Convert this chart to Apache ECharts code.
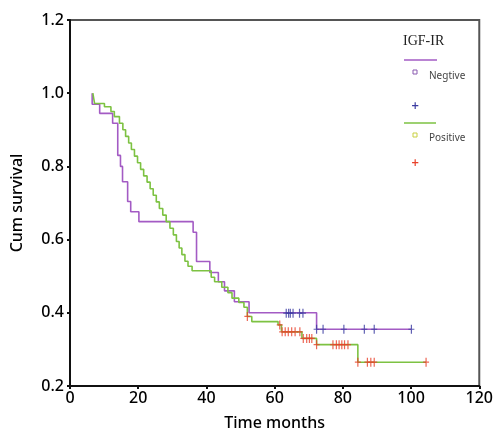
<!doctype html>
<html lang="en">
  <head>
    <meta charset="utf-8">
    <title>IGF-IR survival</title>
    <script src="https://cdn.jsdelivr.net/npm/echarts@6/dist/echarts.min.js"></script>
  </head>
  <body style="margin:0; background:#fff;">
    <div id="chart" style="width: 496px; height: 436px;"></div>
    <script>
      // Kaplan-Meier steps (time in months, cum survival)
      var negTime = [6.5, 6.5, 8.7, 12.5, 14.0, 14.8, 15.4, 16.9, 17.8, 20.2, 36.1, 37.1, 41.0, 43.5, 45.3, 48.2, 52.5, 72.3, 100.1];
      var negSurv = [1.0, 0.97, 0.945, 0.918, 0.83, 0.80, 0.758, 0.704, 0.676, 0.649, 0.62, 0.54, 0.51, 0.485, 0.46, 0.43, 0.40, 0.355, 0.355];

      var posTime = [6.7, 7.2, 10.1, 12.0, 13.0, 14.5, 15.5, 16.3, 17.2, 18.0, 18.9, 19.8, 20.7, 21.6, 22.6, 23.5, 24.4, 25.3, 26.2, 27.2, 28.2, 29.3, 30.3, 31.2, 32.0, 32.8, 33.7, 34.6, 35.8, 41.4, 42.4, 44.5, 46.3, 47.5, 49.5, 51.0, 52.0, 53.3, 61.0, 62.0, 68.0, 72.3, 84.4, 104.4];
      var posSurv = [1.0, 0.972, 0.963, 0.95, 0.936, 0.918, 0.9, 0.882, 0.864, 0.846, 0.828, 0.81, 0.792, 0.774, 0.757, 0.739, 0.721, 0.703, 0.685, 0.667, 0.649, 0.631, 0.613, 0.595, 0.577, 0.559, 0.541, 0.527, 0.515, 0.497, 0.485, 0.47, 0.455, 0.44, 0.428, 0.415, 0.39, 0.376, 0.367, 0.348, 0.33, 0.313, 0.265, 0.265];

      // censored cases
      var negCensorTime = [63.4, 64.1, 64.6, 65.4, 67.3, 68.3, 72.3, 74.2, 80.3, 86.3, 89.2, 100.1];
      var negCensorSurv = [0.399, 0.399, 0.399, 0.399, 0.399, 0.399, 0.355, 0.355, 0.355, 0.355, 0.355, 0.355];
      var posCensorTime = [52.0, 61.5, 62.2, 63.1, 64.0, 65.0, 66.0, 67.4, 68.4, 69.4, 70.2, 70.9, 72.3, 77.1, 78.1, 78.9, 79.7, 80.5, 81.5, 84.4, 87.2, 88.2, 89.2, 104.4];
      var posCensorSurv = [0.39, 0.367, 0.348, 0.348, 0.348, 0.348, 0.348, 0.348, 0.33, 0.33, 0.33, 0.33, 0.313, 0.313, 0.313, 0.313, 0.313, 0.313, 0.313, 0.265, 0.265, 0.265, 0.265, 0.265];

      function pairs(xs, ys) {
        return xs.map(function (x, i) { return [x, ys[i]]; });
      }

      var plus = 'path://M-0.8,-6H0.8V-0.8H4V0.8H0.8V6H-0.8V0.8H-4V-0.8H-0.8Z';
      var font = 'Noto Sans';

      var myChart = echarts.init(document.getElementById('chart'));
      myChart.setOption({
        animation: false,
        textStyle: { fontFamily: font },
        grid: {
          left: 70, right: 11, top: 20, bottom: 50,
          show: true, borderColor: '#555', borderWidth: 2, backgroundColor: '#fff'
        },
        xAxis: {
          type: 'value', min: 0, max: 120, interval: 20,
          name: 'Time months', nameLocation: 'middle', nameGap: 29,
          nameTextStyle: { fontSize: 16, color: '#000', fontWeight: 500 },
          axisLine: { lineStyle: { color: '#111', width: 2 } },
          axisTick: { length: 3, lineStyle: { color: '#111', width: 2 } },
          axisLabel: { fontSize: 16, color: '#000', fontWeight: 500, margin: 4 },
          splitLine: { show: false }
        },
        yAxis: {
          type: 'value', min: 0.2, max: 1.2, interval: 0.2,
          name: 'Cum survival', nameLocation: 'middle', nameGap: 45,
          nameTextStyle: { fontSize: 16, color: '#000', fontWeight: 500 },
          axisLine: { show: true, lineStyle: { color: '#111', width: 2 } },
          axisTick: { show: true, length: 3, lineStyle: { color: '#111', width: 2 } },
          axisLabel: { fontSize: 16, color: '#000', fontWeight: 500, margin: 6, formatter: function (v) { return v.toFixed(1); } },
          splitLine: { show: false }
        },
        graphic: [
          { type: 'text', left: 403, top: 34, style: { text: 'IGF-IR', font: '14px "Liberation Serif"', fill: '#222' } },
          { type: 'line', shape: { x1: 404, y1: 60, x2: 437, y2: 60 }, style: { stroke: '#a35bc4', lineWidth: 1.5 } },
          { type: 'rect', shape: { x: 413, y: 70, width: 4, height: 4 }, style: { fill: 'none', stroke: '#8a5ab0', lineWidth: 1 } },
          { type: 'text', left: 429, top: 71, style: { text: 'Negtive', font: '10px "Noto Sans"', fill: '#444' } },
          { type: 'text', left: 411, top: 101, style: { text: '+', font: 'bold 10px "DejaVu Sans"', fill: '#3a3aa0' } },
          { type: 'line', shape: { x1: 404, y1: 123, x2: 436, y2: 123 }, style: { stroke: '#7dc242', lineWidth: 1.5 } },
          { type: 'rect', shape: { x: 413, y: 133, width: 4, height: 4 }, style: { fill: 'none', stroke: '#c8d040', lineWidth: 1 } },
          { type: 'text', left: 429, top: 133, style: { text: 'Positive', font: '10px "Noto Sans"', fill: '#444' } },
          { type: 'text', left: 411, top: 158, style: { text: '+', font: 'bold 10px "DejaVu Sans"', fill: '#e8402a' } }
        ],
        series: [
          {
            name: 'Negtive', type: 'line', step: 'end', showSymbol: false,
            data: pairs(negTime, negSurv),
            lineStyle: { color: '#a35bc4', width: 1.6 }, z: 2
          },
          {
            name: 'Positive', type: 'line', step: 'end', showSymbol: false,
            data: pairs(posTime, posSurv),
            lineStyle: { color: '#7dc242', width: 1.6 }, z: 2
          },
          {
            name: 'Negtive censored', type: 'scatter', symbol: plus, symbolSize: [6, 9],
            data: pairs(negCensorTime, negCensorSurv),
            itemStyle: { color: '#3a3aa0' }, z: 3
          },
          {
            name: 'Positive censored', type: 'scatter', symbol: plus, symbolSize: [6, 9],
            data: pairs(posCensorTime, posCensorSurv),
            itemStyle: { color: '#e8402a' }, z: 3
          }
        ]
      });
    </script>
  </body>
</html>
